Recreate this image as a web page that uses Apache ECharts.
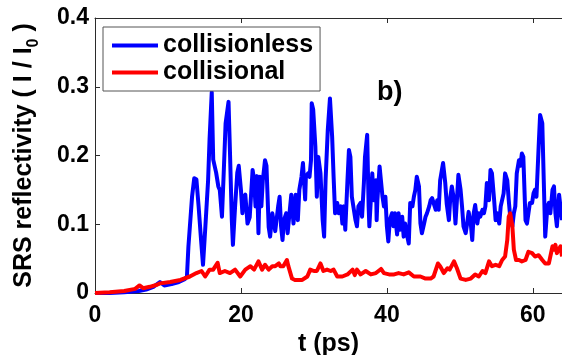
<!DOCTYPE html>
<html>
<head>
<meta charset="utf-8">
<script src="https://cdn.jsdelivr.net/npm/echarts@6/dist/echarts.min.js"></script>
<style>
  html, body { margin: 0; padding: 0; background: #fff; }
  #chart { width: 562px; height: 355px; }
</style>
</head>
<body>
<div id="chart"></div>
<script>
// SRS reflectivity vs time, collisionless vs collisional runs
const seriesNames = ['collisionless', 'collisional'];
const xTicks = [0, 20, 40, 60];
const yTicks = [0, 0.1, 0.2, 0.3, 0.4];

// collisionless run: time (ps) and reflectivity
const tCollisionless = [
  0, 2, 4, 6, 7, 8, 8.9, 9.5, 10.5, 11.5, 12.3, 12.6, 12.8, 13.3, 13.6, 13.9, 14.2, 14.5, 14.8, 15.1,
  15.5, 15.7, 16.0, 16.2, 16.6, 16.9, 17.1, 17.4, 17.6, 17.9, 18.3, 18.5, 18.75, 18.9, 19.2, 19.5, 19.7, 20.0, 20.2, 20.4,
  20.6, 20.9, 21.2, 21.6, 21.8, 22.0, 22.2, 22.4, 22.6, 22.8, 23.0, 23.3, 23.5, 23.8, 24.0, 24.3, 24.5, 24.7, 25.1, 25.3,
  25.5, 25.7, 25.9, 26.2, 26.4, 26.7, 26.9, 27.2, 27.5, 27.8, 28.0, 28.3, 28.5, 28.8, 28.9, 29.2, 29.4, 29.6, 29.7, 29.9,
  30.2, 30.4, 30.6, 30.9, 31.2, 31.4, 31.6, 31.9, 32.2, 32.5, 32.7, 32.9, 33.2, 33.4, 33.7, 33.9, 34.1, 34.3, 34.6, 34.8,
  35.0, 35.2, 35.4, 35.7, 35.9, 36.1, 36.4, 36.6, 36.85, 37.0, 37.3, 37.5, 37.6, 37.8, 38.0, 38.2, 38.5, 38.6, 38.7, 39.0,
  39.2, 39.4, 39.6, 39.8, 40.0, 40.2, 40.4, 40.7, 40.9, 41.1, 41.4, 41.6, 41.8, 42.1, 42.3, 42.5, 42.8, 43.0, 43.2, 43.5,
  43.7, 43.9, 44.1, 44.4, 44.6, 44.8, 45.1, 45.3, 45.5, 45.8, 46.0, 46.2, 46.4, 46.7, 46.9, 47.1, 47.3, 47.7, 48.0, 48.2,
  48.5, 48.7, 48.9, 49.2, 49.4, 49.6, 49.8, 50.1, 50.3, 50.5, 50.8, 51.0, 51.2, 51.5, 51.7, 51.9, 52.1, 52.4, 52.6, 52.8,
  53.1, 53.3, 53.5, 53.7, 54.0, 54.2, 54.4, 54.7, 54.9, 55.1, 55.4, 55.6, 55.8, 56.0, 56.2, 56.5, 56.7, 56.9, 57.2, 57.4,
  57.6, 57.8, 58.1, 58.3, 58.5, 58.7, 59.0, 59.2, 59.4, 59.6, 59.9, 60.1, 60.3, 60.5, 60.8, 61.0, 61.3, 61.5, 61.7, 62.0,
  62.2, 62.4, 62.7, 62.9, 63.1, 63.3, 63.6, 63.8, 64.0
];
const vCollisionless = [
  0, 0, 0.001, 0.003, 0.005, 0.009, 0.016, 0.011, 0.013, 0.016, 0.020, 0.024, 0.067, 0.140, 0.167, 0.165, 0.126, 0.082, 0.041, 0.092,
  0.164, 0.223, 0.292, 0.194, 0.175, 0.155, 0.150, 0.111, 0.164, 0.247, 0.278, 0.204, 0.106, 0.070, 0.126, 0.175, 0.185, 0.150, 0.116, 0.140,
  0.143, 0.101, 0.110, 0.179, 0.165, 0.126, 0.170, 0.087, 0.169, 0.126, 0.164, 0.193, 0.185, 0.096, 0.082, 0.116, 0.116, 0.090, 0.126, 0.140,
  0.097, 0.077, 0.106, 0.116, 0.087, 0.121, 0.143, 0.101, 0.143, 0.106, 0.150, 0.169, 0.189, 0.136, 0.169, 0.174, 0.169, 0.193, 0.276, 0.267,
  0.213, 0.140, 0.198, 0.174, 0.106, 0.082, 0.164, 0.237, 0.283, 0.227, 0.169, 0.116, 0.131, 0.116, 0.126, 0.101, 0.126, 0.092, 0.164, 0.208,
  0.198, 0.140, 0.140, 0.106, 0.097, 0.126, 0.131, 0.111, 0.160, 0.198, 0.230, 0.126, 0.097, 0.135, 0.174, 0.135, 0.164, 0.106, 0.135, 0.184,
  0.186, 0.140, 0.126, 0.140, 0.097, 0.075, 0.106, 0.116, 0.097, 0.116, 0.085, 0.116, 0.092, 0.111, 0.082, 0.101, 0.082, 0.072, 0.131, 0.126,
  0.140, 0.150, 0.169, 0.155, 0.101, 0.087, 0.101, 0.111, 0.116, 0.126, 0.135, 0.138, 0.131, 0.121, 0.135, 0.121, 0.164, 0.189, 0.160, 0.130,
  0.106, 0.140, 0.155, 0.135, 0.101, 0.135, 0.172, 0.150, 0.126, 0.097, 0.087, 0.101, 0.118, 0.101, 0.077, 0.116, 0.128, 0.101, 0.116, 0.111,
  0.121, 0.116, 0.126, 0.160, 0.135, 0.179, 0.174, 0.135, 0.106, 0.116, 0.101, 0.126, 0.126, 0.145, 0.174, 0.164, 0.135, 0.111, 0.097, 0.116,
  0.126, 0.174, 0.193, 0.185, 0.203, 0.198, 0.106, 0.101, 0.116, 0.131, 0.131, 0.145, 0.150, 0.140, 0.213, 0.259, 0.247, 0.164, 0.082, 0.126,
  0.131, 0.116, 0.150, 0.155, 0.116, 0.097, 0.143, 0.145, 0.106
];

// collisional run: time (ps) and reflectivity
const tCollisional = [
  0, 2, 4, 5.5, 6.1, 6.6, 7.5, 8.5, 8.9, 10.3, 11.7, 13.0, 13.9, 14.6, 15.1, 15.7, 16.2, 16.8, 17.1, 17.8,
  18.5, 19.2, 19.9, 20.6, 21.3, 21.8, 22.4, 22.9, 23.3, 23.8, 24.3, 24.7, 25.2, 25.4, 25.8, 26.3, 26.5, 27.0, 27.4, 28.4,
  29.1, 29.5, 30.0, 30.4, 30.9, 31.3, 31.8, 32.3, 32.7, 33.2, 33.9, 34.6, 35.3, 35.6, 35.9, 36.4, 37.1, 37.8, 38.5, 39.2,
  39.6, 40.3, 41.0, 41.6, 42.3, 43.0, 43.7, 44.6, 45.3, 46.0, 46.4, 47.0, 47.3, 47.8, 48.3, 48.6, 49.2, 49.6, 50.1, 50.8,
  51.5, 52.1, 52.6, 53.1, 53.5, 54.0, 54.4, 54.9, 55.4, 55.8, 56.2, 56.5, 56.7, 56.9, 57.2, 57.4, 57.7, 58.1, 58.5, 59.0,
  59.4, 59.9, 60.3, 60.8, 61.3, 61.7, 62.2, 62.7, 62.9, 63.1, 63.3, 63.8, 64.0
];
const vCollisional = [
  0, 0.001, 0.003, 0.006, 0.011, 0.007, 0.009, 0.012, 0.014, 0.016, 0.019, 0.024, 0.029, 0.032, 0.024, 0.034, 0.034, 0.044, 0.029, 0.032,
  0.029, 0.034, 0.024, 0.034, 0.039, 0.034, 0.046, 0.034, 0.041, 0.034, 0.039, 0.039, 0.043, 0.039, 0.039, 0.048, 0.039, 0.021, 0.019, 0.019,
  0.024, 0.034, 0.032, 0.032, 0.043, 0.032, 0.034, 0.032, 0.034, 0.024, 0.024, 0.027, 0.034, 0.026, 0.034, 0.027, 0.032, 0.027, 0.029, 0.035,
  0.029, 0.027, 0.027, 0.029, 0.027, 0.030, 0.024, 0.024, 0.021, 0.021, 0.024, 0.043, 0.039, 0.029, 0.036, 0.034, 0.046, 0.036, 0.021, 0.019,
  0.021, 0.027, 0.024, 0.032, 0.029, 0.046, 0.039, 0.041, 0.039, 0.048, 0.053, 0.077, 0.111, 0.116, 0.097, 0.063, 0.048, 0.048, 0.046, 0.048,
  0.060, 0.058, 0.053, 0.055, 0.048, 0.043, 0.043, 0.068, 0.063, 0.070, 0.058, 0.068, 0.053
];

const pairs = (ts, vs) => ts.map((t, i) => [t, vs[i]]);

const FONT = '"Liberation Sans", Arial, Helvetica, sans-serif';
const AXIS_COLOR = '#2b2b2b';
const LINE_W = 4;

const chart = echarts.init(document.getElementById('chart'), null, { renderer: 'canvas' });

const xCommon = {
  type: 'value', min: 0, max: 64, interval: 20,
  axisLine: { show: true, lineStyle: { color: AXIS_COLOR, width: 1 } },
  axisTick: { show: true, inside: true, length: 5, lineStyle: { color: AXIS_COLOR } },
  splitLine: { show: false }
};

chart.setOption({
  animation: false,
  backgroundColor: '#fff',
  grid: { left: 95, right: 0, top: 18, bottom: 62, containLabel: false, outerBoundsMode: 'none' },
  xAxis: [
    Object.assign({}, xCommon, {
      position: 'bottom',
      name: 't (ps)',
      nameLocation: 'middle',
      nameGap: 36,
      nameTextStyle: { fontFamily: FONT, fontWeight: 'bold', fontSize: 25, color: '#000' },
      axisLabel: {
        fontFamily: FONT, fontWeight: 'bold', fontSize: 23, color: '#000', margin: 11,
        customValues: xTicks
      }
    }),
    Object.assign({}, xCommon, {
      position: 'top',
      axisLabel: { show: false }
    })
  ],
  yAxis: {
    type: 'value', min: 0, max: 0.4, interval: 0.1,
    axisLine: { show: true, lineStyle: { color: AXIS_COLOR, width: 1 } },
    axisTick: { show: true, inside: true, length: 5, lineStyle: { color: AXIS_COLOR } },
    splitLine: { show: false },
    axisLabel: {
      fontFamily: FONT, fontWeight: 'bold', fontSize: 23, color: '#000', margin: 6,
      formatter: v => {
        const hit = yTicks.find(t => Math.abs(t - v) < 1e-9);
        return hit === 0 ? '0' : String(hit);
      }
    },
    name: '{a|SRS reflectivity ( I / I}{s|0}{a| )}',
    nameLocation: 'middle',
    nameRotate: 90,
    nameGap: 58,
    nameTextStyle: {
      rich: {
        a: { fontFamily: FONT, fontWeight: 'bold', fontSize: 25, color: '#000', lineHeight: 25, verticalAlign: 'top' },
        s: { fontFamily: FONT, fontWeight: 'bold', fontSize: 16, color: '#000', lineHeight: 16, padding: [14, 0, 0, 0], verticalAlign: 'top' }
      }
    }
  },
  legend: {
    orient: 'vertical',
    left: 103, top: 27,
    padding: [6, 7, 6, 9],
    itemGap: 2,
    itemWidth: 46,
    itemHeight: LINE_W,
    icon: 'rect',
    backgroundColor: '#fff',
    borderColor: '#555',
    borderWidth: 1,
    borderRadius: 0,
    data: seriesNames,
    textStyle: { fontFamily: FONT, fontWeight: 'bold', fontSize: 25, color: '#000', lineHeight: 25 }
  },
  graphic: [{
    type: 'text',
    left: 377, top: 79,
    style: { text: 'b)', fontFamily: FONT, fontWeight: 'bold', fontSize: 27, fill: '#000' }
  }],
  series: [
    {
      name: seriesNames[0], type: 'line', symbol: 'none', z: 2,
      data: pairs(tCollisionless, vCollisionless),
      lineStyle: { color: '#0000ff', width: LINE_W, join: 'round' },
      itemStyle: { color: '#0000ff' }
    },
    {
      name: seriesNames[1], type: 'line', symbol: 'none', z: 3,
      data: pairs(tCollisional, vCollisional),
      lineStyle: { color: '#ff0000', width: LINE_W, join: 'round' },
      itemStyle: { color: '#ff0000' }
    }
  ]
});
</script>
</body>
</html>
